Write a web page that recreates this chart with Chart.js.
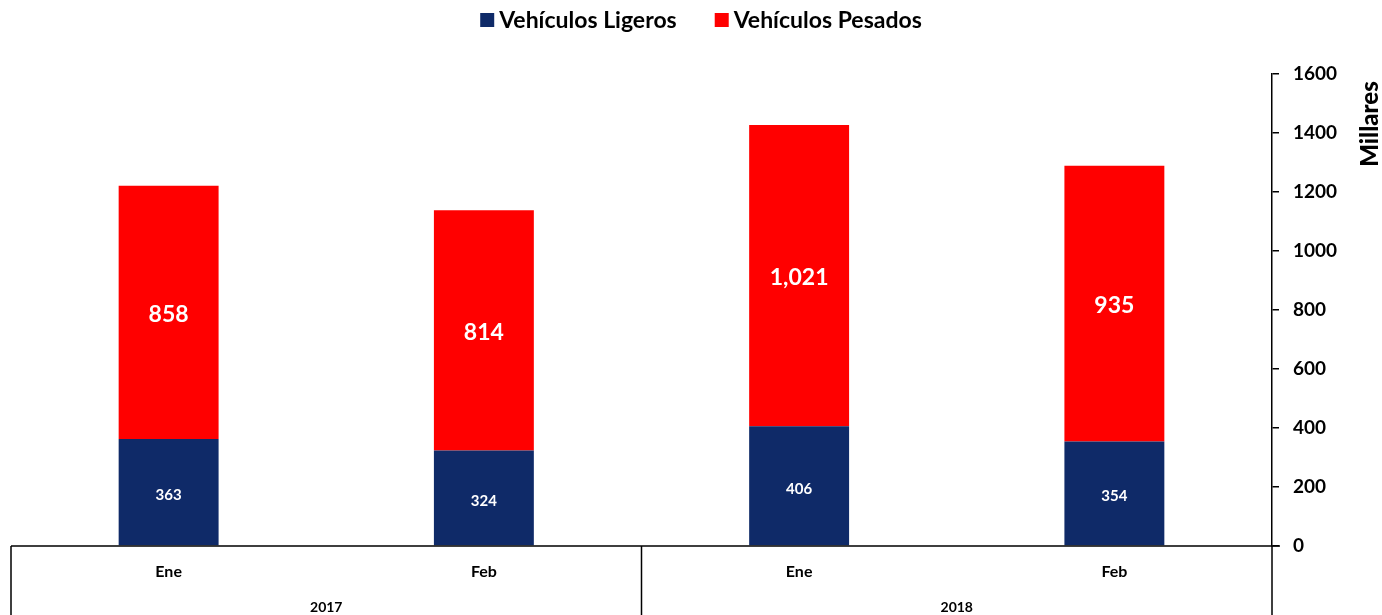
<!DOCTYPE html>
<html>
<head>
<meta charset="utf-8">
<script src="https://cdn.jsdelivr.net/npm/chart.js@4.4.0/dist/chart.umd.min.js"></script>
<style>
  html, body { margin: 0; padding: 0; background: #fff; }
  #wrap { width: 1382px; height: 615px; position: relative; }
</style>
</head>
<body>
<div id="wrap"><canvas id="ventas"></canvas></div>
<script>
// Ventas por tipo de vehículo (miles)
const meses = ['Ene', 'Feb', 'Ene', 'Feb'];
const anios = ['2017', '2018'];
const ligeros = [363, 324, 406, 354];
const pesados = [858, 814, 1021, 935];
const yTicks = [0, 200, 400, 600, 800, 1000, 1200, 1400, 1600];

const AZUL = '#0f2a68';
const ROJO = '#ff0000';
const FUENTE = 'Lato, "Open Sans", sans-serif';

// leyenda en una fila, centrada arriba
function dibujarLeyenda(chart) {
    const ctx = chart.ctx;
    const caja = 14, hueco = 5, sep = 38;
    ctx.save();
    ctx.font = 'bold 23px ' + FUENTE;
    ctx.textBaseline = 'middle';
    ctx.textAlign = 'left';
    const items = chart.data.datasets.map(ds => ({
        texto: ds.label,
        color: ds.backgroundColor,
        ancho: caja + hueco + ctx.measureText(ds.label).width
    }));
    const total = items.reduce((s, it) => s + it.ancho, 0) + sep * (items.length - 1);
    let x = chart.width / 2 - total / 2 + 10;
    const y = 20;
    items.forEach(it => {
        ctx.fillStyle = it.color;
        ctx.fillRect(x, y - caja / 2, caja, caja);
        ctx.fillStyle = '#000';
        ctx.fillText(it.texto, x + caja + hueco, y + 1);
        x += it.ancho + sep;
    });
    ctx.restore();
}

// eje inferior agrupado por año, etiquetas de valores y título del eje
const extras = {
    id: 'extras',
    afterDatasetsDraw(chart) {
        const ctx = chart.ctx;
        ctx.save();
        ctx.fillStyle = '#fff';
        ctx.textAlign = 'center';
        ctx.textBaseline = 'middle';
        chart.data.datasets.forEach((ds, i) => {
            const meta = chart.getDatasetMeta(i);
            ctx.font = i === 0 ? 'bold 15px ' + FUENTE : 'bold 23px ' + FUENTE;
            meta.data.forEach((bar, j) => {
                const y = (bar.y + bar.base) / 2 + (i === 0 ? 3 : 2);
                ctx.fillText(ds.data[j].toLocaleString('en-US'), bar.x, y);
            });
        });
        ctx.restore();
    },
    afterDraw(chart) {
        const ctx = chart.ctx;
        const area = chart.chartArea;
        const x = chart.scales.x;
        const h = chart.height;
        dibujarLeyenda(chart);
        ctx.save();
        ctx.strokeStyle = '#000';
        ctx.lineWidth = 1.5;
        ctx.beginPath();
        ctx.moveTo(area.left, area.bottom);
        ctx.lineTo(area.right + 8, area.bottom);
        const mid = (x.getPixelForValue(1) + x.getPixelForValue(2)) / 2;
        [area.left, mid, area.right].forEach(px => {
            ctx.moveTo(px, area.bottom);
            ctx.lineTo(px, h);
        });
        ctx.stroke();

        ctx.fillStyle = '#000';
        ctx.textAlign = 'center';
        ctx.textBaseline = 'middle';
        ctx.font = 'bold 16px ' + FUENTE;
        meses.forEach((m, i) => {
            ctx.fillText(m, x.getPixelForValue(i), area.bottom + 26);
        });
        ctx.font = 'bold 14px ' + FUENTE;
        anios.forEach((a, i) => {
            const cx = (x.getPixelForValue(i * 2) + x.getPixelForValue(i * 2 + 1)) / 2;
            ctx.fillText(a, cx, area.bottom + 61);
        });

        // título del eje Y, leído de abajo hacia arriba
        ctx.translate(1370, 124);
        ctx.rotate(-Math.PI / 2);
        ctx.font = '900 24px ' + FUENTE;
        ctx.fillText('Millares', 0, 0);
        ctx.restore();
    }
};

new Chart(document.getElementById('ventas'), {
    type: 'bar',
    data: {
        labels: meses,
        datasets: [
            { label: 'Vehículos Ligeros', data: ligeros, backgroundColor: AZUL },
            { label: 'Vehículos Pesados', data: pesados, backgroundColor: ROJO }
        ]
    },
    options: {
        responsive: true,
        maintainAspectRatio: false,
        animation: false,
        layout: { padding: { left: 11, bottom: 61, top: 74 } },
        datasets: { bar: { categoryPercentage: 1, barPercentage: 0.317 } },
        plugins: {
            tooltip: { enabled: false },
            legend: { display: false }
        },
        scales: {
            x: {
                stacked: true,
                grid: { display: false },
                border: { display: false },
                ticks: { display: false }
            },
            y: {
                stacked: true,
                position: 'right',
                min: 0,
                max: 1600,
                afterBuildTicks(scale) {
                    scale.ticks = yTicks.map(v => ({ value: v }));
                },
                afterFit(scale) {
                    scale.width = 110;
                },
                grid: {
                    drawOnChartArea: false,
                    drawTicks: true,
                    tickLength: 7,
                    color: '#000',
                    lineWidth: 1.5
                },
                border: { display: true, color: '#000', width: 1.5 },
                ticks: {
                    color: '#000',
                    padding: 14,
                    font: { family: FUENTE, size: 19, weight: 'bold' },
                    callback: v => String(v)
                }
            }
        }
    },
    plugins: [extras]
});
</script>
</body>
</html>
